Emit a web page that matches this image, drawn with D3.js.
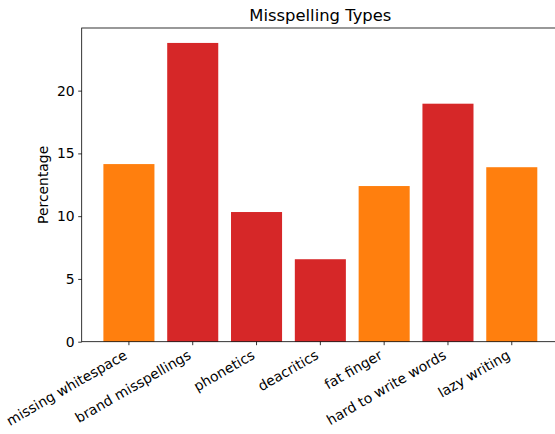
<!DOCTYPE html>
<html>
<head>
<meta charset="utf-8">
<script src="https://cdn.jsdelivr.net/npm/d3@7"></script>
<style>
  body { margin: 0; background: #fff; }
  text { font-family: "DejaVu Sans", sans-serif; fill: #000; }
</style>
</head>
<body>
<div id="chart"></div>
<script>
// data
var categories = ["missing whitespace", "brand misspellings", "phonetics", "deacritics",
                  "fat finger", "hard to write words", "lazy writing"];
var percentages = [14.15, 23.8, 10.33, 6.57, 12.4, 18.96, 13.9];
var barColors = ["#ff7f0e", "#d62728", "#d62728", "#d62728", "#ff7f0e", "#d62728", "#ff7f0e"];
var yTicks = [0, 5, 10, 15, 20];

const width = 555;
const height = 434;
const plotLeft = 81.7, plotRight = 559, plotTop = 28, plotBottom = 341.7;

var svg = d3.select("#chart").append("svg")
  .attr("width", width)
  .attr("height", height);

/* Scales, matplotlib style: bars 0.8 wide, 5% margins */
var n = categories.length;
var xScale = d3.scaleLinear()
  .domain([-0.4 - 0.34, n - 1 + 0.4 + 0.34])
  .range([plotLeft, plotRight]);

var yScale = d3.scaleLinear()
  .domain([0, d3.max(percentages) * 1.05])
  .range([plotBottom, plotTop]);

/* bars */
svg.append("g")
  .selectAll("rect")
  .data(percentages).enter()
  .append("rect")
  .attr("x", (d, i) => xScale(i - 0.4))
  .attr("width", xScale(0.8) - xScale(0))
  .attr("y", d => yScale(d))
  .attr("height", d => plotBottom - yScale(d))
  .attr("fill", (d, i) => barColors[i]);

/* y axis */
var yAxis = d3.axisLeft(yScale)
  .tickValues(yTicks)
  .tickSize(3.5)
  .tickPadding(3.5)
  .tickFormat(d3.format("d"));

var gy = svg.append("g")
  .attr("transform", `translate(${plotLeft}, 0)`)
  .call(yAxis);
gy.select(".domain").remove();
gy.selectAll("text").style("font-size", "13.9px").attr("fill", "#000");
gy.selectAll("line").attr("stroke", "#000").attr("stroke-width", 0.8);

/* x axis ticks */
var gx = svg.append("g");
gx.selectAll("line")
  .data(categories).enter()
  .append("line")
  .attr("x1", (d, i) => xScale(i))
  .attr("x2", (d, i) => xScale(i))
  .attr("y1", plotBottom)
  .attr("y2", plotBottom + 3.5)
  .attr("stroke", "#000")
  .attr("stroke-width", 0.8);

gx.selectAll("text")
  .data(categories).enter()
  .append("text")
  .attr("transform", (d, i) => `translate(${xScale(i) - 6}, ${plotBottom + 7}) rotate(-30)`)
  .attr("text-anchor", "end")
  .attr("dy", "0.76em")
  .style("font-size", "13.9px")
  .text(d => d);

/* spines */
svg.append("rect")
  .attr("x", plotLeft)
  .attr("y", plotTop)
  .attr("width", plotRight - plotLeft)
  .attr("height", plotBottom - plotTop)
  .attr("fill", "none")
  .attr("stroke", "#000")
  .attr("stroke-width", 0.8);

/* title and label */
svg.append("text")
  .attr("x", (plotLeft + plotRight) / 2)
  .attr("y", plotTop - 7.5)
  .attr("text-anchor", "middle")
  .style("font-size", "16.4px")
  .text("Misspelling Types");

svg.append("text")
  .attr("transform", `translate(48, ${(plotTop + plotBottom) / 2}) rotate(-90)`)
  .attr("text-anchor", "middle")
  .style("font-size", "13.9px")
  .text("Percentage");
</script>
</body>
</html>
